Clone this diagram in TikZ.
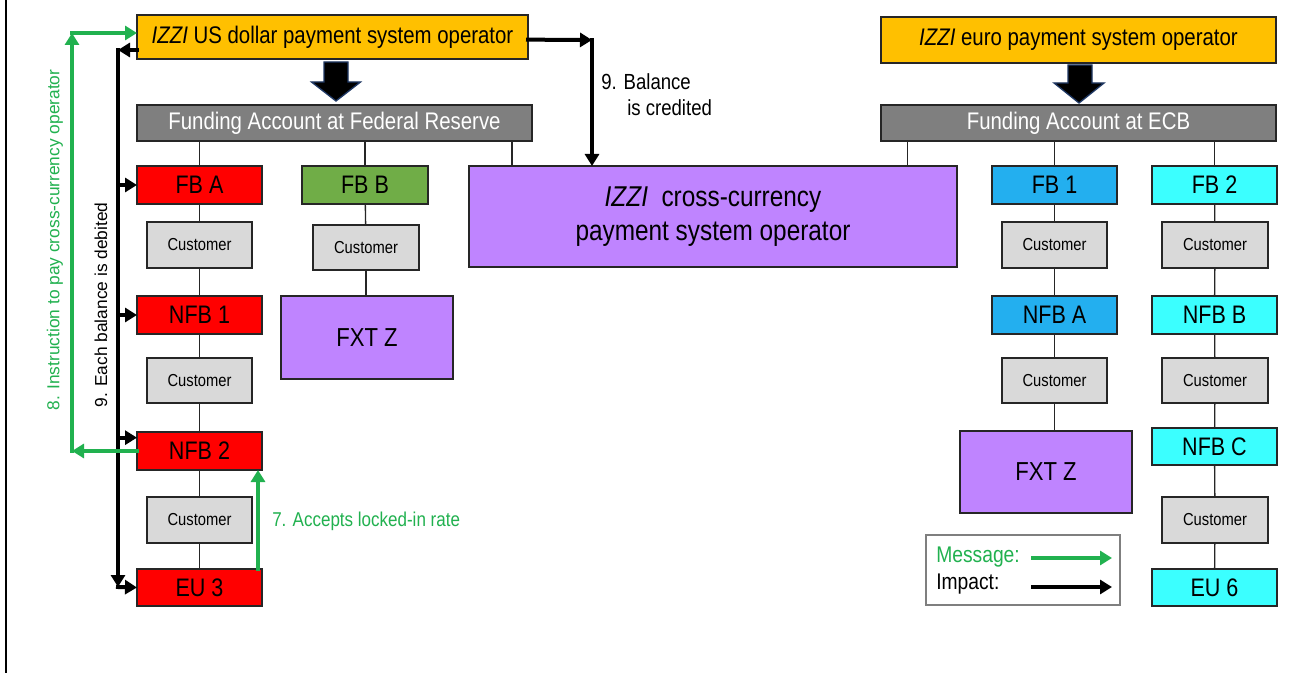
\documentclass[tikz,border=0pt]{standalone}
\usepackage{fontspec}
\setmainfont{Liberation Sans}[FakeStretch=0.85]
\newfontfamily\plainsans{Liberation Sans}
\usetikzlibrary{arrows.meta}

\definecolor{izziyellow}{HTML}{FFC000}
\definecolor{fundgray}{HTML}{7F7F7F}
\definecolor{custgray}{HTML}{D9D9D9}
\definecolor{fbred}{HTML}{FF0000}
\definecolor{fbgreen}{HTML}{70AD47}
\definecolor{fxpurple}{HTML}{BF84FF}
\definecolor{fbblue}{HTML}{23AFEF}
\definecolor{fbcyan}{HTML}{3BFFFF}
\definecolor{msggreen}{HTML}{21B14F}
\definecolor{edge}{HTML}{262626}
\definecolor{navy}{HTML}{1F3864}

% box given by its corners (in px units of the picture)
\newcommand\mkbox[7]{\node[box,#6,minimum width={(#4-#2)*0.75pt},minimum height={(#5-#3)*0.75pt}] (#1) at ({(#2+#4)/2},{(#3+#5)/2}) {#7};}

\tikzset{
  box/.style={draw=edge, line width=1.1pt, inner sep=0pt, outer sep=0pt, align=center},
  opbox/.style={fill=izziyellow, font=\fontsize{18}{21}\selectfont},
  fundbox/.style={fill=fundgray, text=white, font=\fontsize{18}{21}\selectfont},
  bank/.style={font=\fontsize{19}{22}\selectfont},
  redbank/.style={bank, fill=fbred},
  greenbank/.style={bank, fill=fbgreen},
  bluebank/.style={bank, fill=fbblue},
  cyanbank/.style={bank, fill=fbcyan},
  custbox/.style={fill=custgray, font=\fontsize{13}{15}\selectfont},
  fxbox/.style={fill=fxpurple, font=\fontsize{19.5}{23}\selectfont},
  link/.style={draw=edge, line width=1pt},
  imp/.style={draw=black, line width=3pt, line cap=rect, -{Triangle[length=9pt,width=10.5pt]}},
  msg/.style={imp, draw=msggreen, fill=msggreen},
  fat/.style={fill=black, draw=navy, line width=1pt, line join=miter},
}

\begin{document}
\begin{tikzpicture}[x=0.75pt, y=-0.75pt]
\useasboundingbox (0,0) rectangle (1299,673);
\fill[white] (0,0) rectangle (1299,673);
\draw[line width=1.5pt] (6,0) -- (6,673);

% operators and funding accounts
\mkbox{usop}{137}{15}{528}{59}{opbox}{\textit{IZZI} US dollar payment system operator}
\mkbox{euop}{881}{17}{1276}{63}{opbox}{\textit{IZZI} euro payment system operator}
\mkbox{fed}{137}{105}{532}{141}{fundbox}{Funding Account at Federal Reserve}
\mkbox{ecb}{881}{105}{1276}{141}{fundbox}{Funding Account at ECB}
\mkbox{cross}{469}{166}{957}{267}{fill=fxpurple, font=\fontsize{21.5}{26}\selectfont}{\textit{IZZI}\ \ cross-currency\\payment system operator}

% US dollar side
\mkbox{fba}{137}{166}{262}{204}{redbank}{FB A}
\mkbox{cu1}{147}{222}{252}{268}{custbox}{Customer}
\mkbox{nfb1}{137}{296}{262}{334}{redbank}{NFB 1}
\mkbox{cu2}{147}{358}{252}{403}{custbox}{Customer}
\mkbox{nfb2}{137}{432}{262}{470}{redbank}{NFB 2}
\mkbox{cu3}{147}{497}{252}{543}{custbox}{Customer}
\mkbox{eu3}{137}{569}{262}{606}{redbank}{EU 3}
\mkbox{fbb}{302}{166}{428}{204}{greenbank}{FB B}
\mkbox{cu4}{313}{225}{419}{270}{custbox}{Customer}
\mkbox{fxt1}{281}{296}{453}{379}{fxbox}{FXT Z}

% euro side
\mkbox{fb1}{992}{166}{1117}{204}{bluebank}{FB 1}
\mkbox{cu5}{1002}{222}{1107}{268}{custbox}{Customer}
\mkbox{nfba}{992}{296}{1117}{334}{bluebank}{NFB A}
\mkbox{cu6}{1002}{358}{1107}{403}{custbox}{Customer}
\mkbox{fxt2}{960}{431}{1132}{513}{fxbox}{FXT Z}
\mkbox{fb2}{1152}{166}{1277}{204}{cyanbank}{FB 2}
\mkbox{cu7}{1162}{222}{1268}{268}{custbox}{Customer}
\mkbox{nfbb}{1152}{296}{1277}{334}{cyanbank}{NFB B}
\mkbox{cu8}{1162}{358}{1268}{403}{custbox}{Customer}
\mkbox{nfbc}{1152}{428}{1277}{465}{cyanbank}{NFB C}
\mkbox{cu9}{1162}{497}{1268}{543}{custbox}{Customer}
\mkbox{eu6}{1152}{569}{1277}{606}{cyanbank}{EU 6}

% account links
\draw[link] (fba.north) -- (fba.north |- fed.south);
\draw[link] (fbb.north) -- (fbb.north |- fed.south);
\draw[link] ([xshift=-15pt]fed.south east) -- ([xshift=-15pt]fed.south east |- cross.north);
\draw[link] ([xshift=20pt]ecb.south west) -- ([xshift=20pt]ecb.south west |- cross.north);
\draw[link] (fb1.north) -- (fb1.north |- ecb.south);
\draw[link] (fb2.north) -- (fb2.north |- ecb.south);
\draw[link] (fba) -- (cu1) -- (nfb1) -- (cu2) -- (nfb2) -- (cu3) -- (eu3);
\draw[link] (fbb) -- (cu4);
\draw[link] (cu4.south) -- (cu4.south |- fxt1.north);
\draw[link] (fb1) -- (cu5) -- (nfba) -- (cu6);
\draw[link] (cu6.south) -- (cu6.south |- fxt2.north);
\draw[link] (fb2) -- (cu7) -- (nfbb) -- (cu8) -- (nfbc) -- (cu9) -- (eu6);

% block arrows from the operators to their funding accounts
\begin{scope}[shift={(usop.south)}]
  \draw[fat] (-8.5,3) -- (15.5,3) -- (15.5,23) -- (28,23) -- (3.5,42) -- (-21,23) -- (-8.5,23) -- cycle;
\end{scope}
\begin{scope}[shift={(euop.south)}]
  \draw[fat] (-10.5,2) -- (13.5,2) -- (13.5,20) -- (25.5,20) -- (0.5,40) -- (-24.5,20) -- (-10.5,20) -- cycle;
\end{scope}

% 9. each balance is debited
\coordinate (dtop) at (118,50);
\coordinate (dbot) at (118,587);
\draw[imp] ([yshift=-9.75pt]usop.west) -- (dtop);
\draw[imp] (dtop) -- (dbot);
\draw[imp] (fba.west -| dtop) -- (fba.west);
\draw[imp] (nfb1.west -| dtop) -- (nfb1.west);
\draw[imp] ([yshift=10pt]nfb2.west -| dtop) -- ([yshift=10pt]nfb2.west);
\draw[imp] (dbot) -- (eu3.west);

% 9. balance is credited
\coordinate (ctop) at (592,40);
\draw[imp] ([yshift=-2pt]usop.east) -- (ctop);
\draw[imp] (ctop) -- (ctop |- cross.north);

% 8. instruction to pay the cross-currency operator
\coordinate (gbot) at (72,451);
\coordinate (gtop) at (72,33);
\draw[msg] (nfb2.west) -- (gbot);
\draw[msg] (gbot) -- (gtop);
\draw[msg] (gtop) -- ([yshift=3pt]usop.west);

% 7. accepts locked-in rate
\draw[msg] ([xshift=-3pt]eu3.north east) -- ([xshift=-3pt]nfb2.south east);

% labels
\node[rotate=90, text=msggreen, font=\plainsans\fontsize{13}{15}\selectfont] (lab8) at (55,240) {8. Instruction to pay cross-currency operator};
\node[rotate=90, font=\plainsans\fontsize{13}{15}\selectfont] (lab9d) at (101,305) {9. Each balance is debited};
\node[anchor=west, align=left, inner sep=0pt, font=\fontsize{16.4}{19.5}\selectfont] (lab9c) at (601,95) {9. Balance\\\hspace*{19.5pt}is credited};
\node[anchor=west, inner sep=0pt, text=msggreen, font=\fontsize{15}{18}\selectfont] (lab7) at (272,521) {7. Accepts locked-in rate};

% legend
\node[draw=fundgray, line width=0.8pt, minimum width={194*0.75pt}, minimum height={70*0.75pt}, inner sep=0pt] (legend) at (1023,570) {};
\node[anchor=west, inner sep=0pt, text=msggreen, font=\fontsize{17}{20}\selectfont] (lmsg) at (936,557) {Message:};
\node[anchor=west, inner sep=0pt, font=\fontsize{17}{20}\selectfont] (limp) at (936,584) {Impact:};
\coordinate (lm1) at (1033,558);
\coordinate (lm2) at (1112,558);
\coordinate (li1) at (1033,587);
\coordinate (li2) at (1112,587);
\draw[msg] (lm1) -- (lm2);
\draw[imp] (li1) -- (li2);
\end{tikzpicture}
\end{document}
